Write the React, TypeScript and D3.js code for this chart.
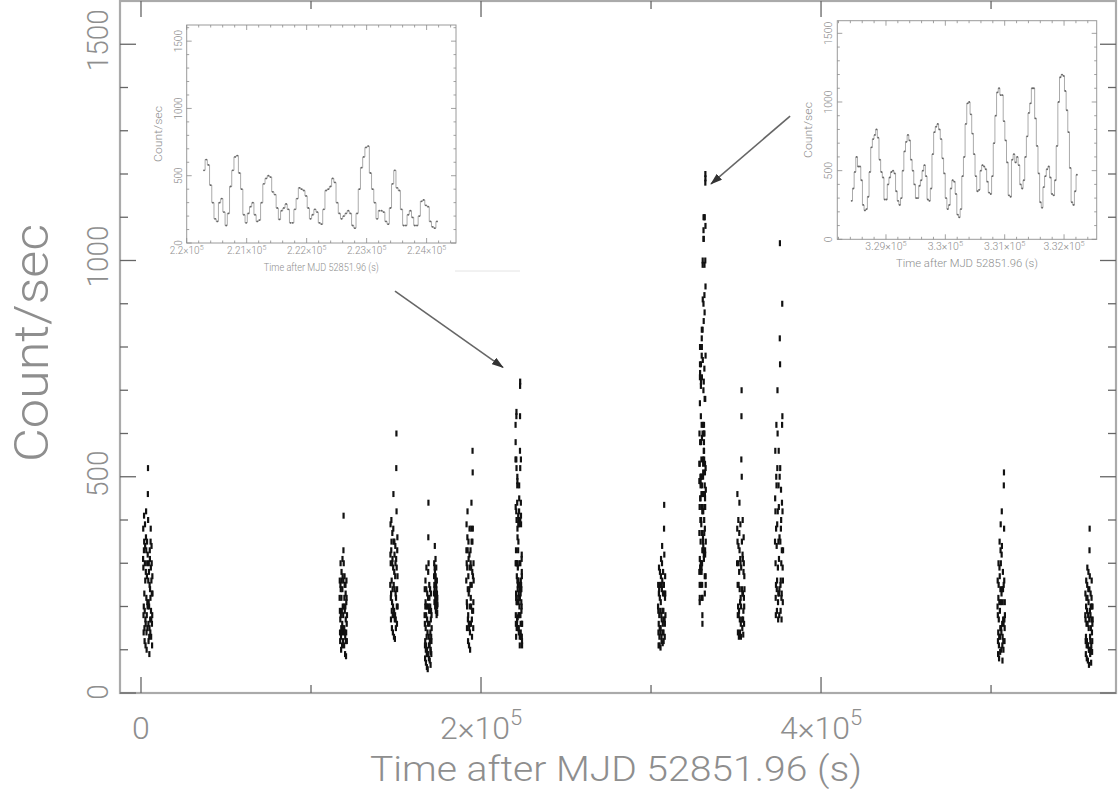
import React from "react";
import * as d3 from "d3";

const W = 1119;
const H = 790;

// ---- main light curve: one array of rates (count/s) per observation segment ----
const seg01 = [310,380,290,180,140,200,330,410,350,230,150,120,190,300,390,340,260,170,110,160,280,360,420,330,220,140,100,180,270,350,300,210,150,200,320,460,520,400,260,160,120,210,300,280,200,130,90,150,250,330,310,240,170,140,220,350,380,290,190,130,170,260,340,300,230,160,110,180,270,230];
const seg02 = [220,260,190,140,120,170,250,300,240,180,130,100,150,220,280,260,190,140,110,160,240,310,270,200,150,120,180,260,330,410,300,200,140,110,150,220,270,250,190,140,90,130,200,250,230,170,120,85,140,210,260,220,160,120,180];
const seg03 = [250,320,390,300,220,170,230,330,400,350,260,190,150,210,300,370,310,240,180,140,200,290,380,460,350,250,180,130,190,280,350,320,240,170,125,180,270,340,300,230,170,150,220,310,520,600,420,290,200,160,240,330,360,270,200];
const seg04 = [180,240,160,110,80,120,200,260,210,150,100,70,110,180,240,290,200,130,90,60,100,170,230,200,140,90,55,90,160,220,280,360,440,300,200,130,80,110,190,250,220,160,110,75,120,190,240,200,140,95,65,100,170,230,190,130,90,120,180,150];
const seg05 = [230,270,300,250,210,240,290,340,280,230,200,220,260,310,270,220,190,210,250,290,240,200,180,215,260,230,200,185,220,205];
const seg06 = [260,330,390,300,210,150,200,290,360,420,330,240,170,120,180,270,350,310,230,160,110,150,240,320,380,290,200,140,100,160,250,330,300,220,160,200,290,380,440,350,250,170,130,190,280,350,560,510,380,270,190,150,210,300,260];
const seg08 = [200,250,190,140,110,160,230,290,240,180,130,110,150,220,280,250,190,140,105,150,210,270,310,250,180,130,120,170,240,300,340,260,190,140,115,160,230,280,250,190,140,120,170,250,380,435,320,230,170,130,160,220,270,230,180];
const seg10 = [300,380,460,350,250,180,140,200,300,400,340,250,180,130,190,280,370,440,330,240,170,140,210,310,390,300,220,160,130,200,290,540,640,700,500,350,240,170,150,230,320,400,310,230,170,135,190,280,360,300,220,160,200,270,240];
const seg11 = [350,450,560,420,300,220,180,250,380,500,620,480,340,240,190,260,390,520,700,600,420,290,210,170,230,350,480,560,430,310,230,180,240,360,500,820,1040,760,520,350,250,190,260,380,470,400,300,220,170,230,330,440,620,900,640,420,290,210,260,330];
const seg12 = [200,260,180,120,90,140,220,300,250,170,110,80,130,210,290,350,270,190,130,95,150,240,330,390,300,210,150,100,140,230,320,420,340,240,160,110,75,130,210,280,240,170,120,100,160,250,480,510,380,260,170,120,150,210,180];
const seg13 = [180,230,170,120,90,130,200,260,220,160,110,80,120,190,250,290,220,160,110,75,110,180,240,280,210,150,100,65,100,170,240,330,380,270,190,130,90,120,180,230,200,150,100,70,110,170,220,260,200,140,95,120,160,200,170];

// zoomed segments (shown in the insets and in the main panel)
const zoomLeftRates = [540,620,580,430,300,180,160,300,330,230,130,220,420,540,640,650,
  520,400,210,150,220,270,300,210,160,
  170,300,440,480,500,490,380,360,260,
  175,240,260,290,250,150,150,250,330,410,
  400,390,350,260,180,210,250,230,150,140,
  250,390,400,420,480,450,300,220,180,200,
  220,240,220,130,110,220,400,560,640,710,
  720,520,400,300,180,240,240,230,160,140,
  260,440,540,410,390,250,130,130,210,240,
  190,130,130,200,310,320,280,270,160,120,
  110,160];
const zoomRightRates = [280,370,490,600,530,530,430,250,210,220,310,490,670,730,760,800,740,580,490,450,
  290,290,400,450,490,500,480,350,280,250,300,500,640,710,760,720,580,500,400,300,
  300,390,430,500,540,460,290,280,370,620,780,820,840,800,730,590,480,300,220,250,
  370,430,420,330,180,160,220,460,600,840,990,1000,910,770,620,460,350,360,500,540,
  530,510,420,340,330,460,700,900,1070,1100,1050,1050,860,720,560,320,310,580,620,560,
  600,540,400,370,430,600,750,920,990,1100,1100,880,680,480,270,230,380,460,510,530,
  450,330,320,430,680,1000,1180,1200,1190,1080,940,780,520,270,250,350,470];

const segments = [
  { t0: 1200, dt: 80, rates: seg01 },
  { t0: 116800, dt: 80, rates: seg02 },
  { t0: 146600, dt: 80, rates: seg03 },
  { t0: 166800, dt: 70, rates: seg04 },
  { t0: 172300, dt: 70, rates: seg05 },
  { t0: 191300, dt: 80, rates: seg06 },
  { t0: 220270, dt: 37, rates: zoomLeftRates },
  { t0: 304100, dt: 80, rates: seg08 },
  { t0: 328408, dt: 27.9, rates: zoomRightRates },
  { t0: 350600, dt: 80, rates: seg10 },
  { t0: 372900, dt: 80, rates: seg11 },
  { t0: 503800, dt: 80, rates: seg12 },
  { t0: 555400, dt: 80, rates: seg13 },
];

// axes
const mainXMajor = [0, 200000, 400000];
const mainXLabels = [["0", ""], ["2×10", "5"], ["4×10", "5"]];
const mainXMinor = [100000, 300000, 500000];
const mainYMajor = [0, 500, 1000, 1500];
const mainYLabels = ["0", "500", "1000", "1500"];

const leftXMajor = [220000, 221000, 222000, 223000, 224000];
const leftXLabels = ["2.2", "2.21", "2.22", "2.23", "2.24"];
const rightXMajor = [329000, 330000, 331000, 332000];
const rightXLabels = ["3.29", "3.3", "3.31", "3.32"];
const insetYMajor = [0, 500, 1000, 1500];

// arrows in main-panel data coordinates
const arrows = [
  { from: [149400, 929], to: [212900, 753] },
  { from: [381800, 1334], to: [335300, 1177] },
];

const GRAY = "#8e8e8e";
const FONT = "Roboto, 'DejaVu Sans', sans-serif";

const mainX = d3.scaleLinear().domain([-12350, 573500]).range([120, 1116]);
const mainY = d3.scaleLinear().domain([0, 1600]).range([693, 1]);

type InsetProps = {
  box: { x0: number; x1: number; y0: number; y1: number };
  xDomain: [number, number];
  yMax: number;
  xMajor: number[];
  xLabels: string[];
  t0: number;
  dt: number;
  rates: number[];
  fs: number;
  titleLen: number;
};

function Inset({ box, xDomain, yMax, xMajor, xLabels, t0, dt, rates, fs, titleLen }: InsetProps) {
  const x = d3.scaleLinear().domain(xDomain).range([box.x0, box.x1]);
  const y = d3.scaleLinear().domain([0, yMax]).range([box.y1, box.y0]);
  const pts: [number, number][] = rates.map((v, i) => [t0 + (i + 0.5) * dt, v]);
  const line = d3
    .line<[number, number]>()
    .x((d) => x(d[0]))
    .y((d) => y(d[1]))
    .curve(d3.curveStep);
  const xMinor = d3.range(Math.ceil(xDomain[0] / 200) * 200, xDomain[1], 200);
  const yMinor = d3.range(0, yMax, 100);
  return (
    <g>
      <rect x={box.x0} y={box.y0} width={box.x1 - box.x0} height={box.y1 - box.y0} fill="none" stroke="#9a9a9a" strokeWidth={1} />
      {xMinor.map((t) => {
        const len = xMajor.includes(t) ? 5 : 2.5;
        return (
          <g key={"xm" + t} stroke="#8a8a8a" strokeWidth={0.8}>
            <line x1={x(t)} x2={x(t)} y1={box.y1} y2={box.y1 - len} />
            <line x1={x(t)} x2={x(t)} y1={box.y0} y2={box.y0 + len} />
          </g>
        );
      })}
      {yMinor.map((v) => {
        const len = v % 500 === 0 ? 5 : 2.5;
        return (
          <g key={"ym" + v} stroke="#8a8a8a" strokeWidth={0.8}>
            <line x1={box.x0} x2={box.x0 + len} y1={y(v)} y2={y(v)} />
            <line x1={box.x1} x2={box.x1 - len} y1={y(v)} y2={y(v)} />
          </g>
        );
      })}
      <path d={line(pts) || ""} fill="none" stroke="#a0a0a0" strokeWidth={0.9} />
      {pts.map((d, i) => (
        <circle key={i} cx={x(d[0])} cy={y(d[1])} r={0.9} fill="#666" />
      ))}
      {insetYMajor.map((v) => (
        <text key={"yl" + v} transform={`translate(${box.x0 - 5},${y(v)}) rotate(-90)`} textAnchor="middle" fontSize={fs} fill={GRAY}>
          {v}
        </text>
      ))}
      {xMajor.map((t, i) => (
        <text key={"xl" + t} x={x(t)} y={box.y1 + 11} textAnchor="middle" fontSize={fs} fill={GRAY}>
          {xLabels[i] + "×10"}
          <tspan dy={-4} fontSize={fs * 0.7}>5</tspan>
        </text>
      ))}
      <text x={(box.x0 + box.x1) / 2} y={box.y1 + 28} textAnchor="middle" fontSize={fs} fill={GRAY} textLength={titleLen} lengthAdjust="spacingAndGlyphs">
        Time after MJD 52851.96 (s)
      </text>
      <text transform={`translate(${box.x0 - 25},${(box.y0 + box.y1) / 2}) rotate(-90)`} textAnchor="middle" fontSize={fs} fill={GRAY} textLength={56} lengthAdjust="spacingAndGlyphs">
        Count/sec
      </text>
    </g>
  );
}

export default function App() {
  const x0 = 120, x1 = 1116, y0 = 1, y1 = 693;
  const yMinor = d3.range(0, 1600, 100);
  return (
    <div style={{ position: "absolute", left: 0, top: 0 }}>
      <svg width={W} height={H} style={{ display: "block", background: "#fff", fontFamily: FONT, fontWeight: 300 }}>
        <defs>
          <marker id="head" viewBox="0 0 12 8" refX={11} refY={4} markerWidth={12} markerHeight={8} markerUnits="userSpaceOnUse" orient="auto">
            <path d="M0,0 L12,4 L0,8 z" fill="#333" />
          </marker>
        </defs>

        {/* frame */}
        <rect x={x0} y={y0} width={x1 - x0} height={y1 - y0} fill="none" stroke="#aaa" strokeWidth={2.2} />
        {mainXMajor.concat(mainXMinor).map((t) => {
          const len = mainXMajor.includes(t) ? 16 : 8;
          return (
            <g key={"x" + t} stroke="#666" strokeWidth={1.3}>
              <line x1={mainX(t)} x2={mainX(t)} y1={y1} y2={y1 - len} />
              <line x1={mainX(t)} x2={mainX(t)} y1={y0} y2={y0 + len} />
            </g>
          );
        })}
        {yMinor.map((v) => {
          const len = v % 500 === 0 ? 16 : 8;
          return (
            <g key={"y" + v} stroke="#666" strokeWidth={1.3}>
              <line x1={x0} x2={x0 + len} y1={mainY(v)} y2={mainY(v)} />
              <line x1={x1} x2={x1 - len} y1={mainY(v)} y2={mainY(v)} />
            </g>
          );
        })}

        {/* tick labels */}
        {mainYMajor.map((v, i) => (
          <text key={"yl" + v} transform={`translate(108,${mainY(v) - mainYLabels[i].length}) rotate(-90)`} textAnchor="middle" fontSize={30} fill={GRAY} textLength={mainYLabels[i].length * 15.5} lengthAdjust="spacingAndGlyphs">
            {mainYLabels[i]}
          </text>
        ))}
        {mainXMajor.map((t, i) => (
          <text key={"xl" + t} x={mainX(t)} y={739} textAnchor="middle" fontSize={32} fill={GRAY}>
            {mainXLabels[i][0]}
            {mainXLabels[i][1] && <tspan dy={-14} fontSize={22}>{mainXLabels[i][1]}</tspan>}
          </text>
        ))}
        <text x={616} y={781} textAnchor="middle" fontSize={35} fill={GRAY} textLength={492} lengthAdjust="spacingAndGlyphs">
          Time after MJD 52851.96 (s)
        </text>
        <text transform="translate(48,343) rotate(-90)" textAnchor="middle" fontSize={48} fill={GRAY} textLength={238} lengthAdjust="spacingAndGlyphs">
          Count/sec
        </text>

        {/* light curve */}
        <g stroke="#111" strokeWidth={2.2}>
          {segments.map((s, si) =>
            s.rates.map((v, i) => {
              const px = mainX(s.t0 + (i + 0.5) * s.dt);
              const py = mainY(v);
              return <line key={si + "-" + i} x1={px} x2={px} y1={py - 3} y2={py + 3} />;
            })
          )}
        </g>

        {/* arrows */}
        {arrows.map((a, i) => (
          <line key={"a" + i} x1={mainX(a.from[0])} y1={mainY(a.from[1])} x2={mainX(a.to[0])} y2={mainY(a.to[1])} stroke="#666" strokeWidth={1.6} markerEnd="url(#head)" />
        ))}

        <line x1={455} x2={520} y1={271} y2={271} stroke="#e4e4e4" strokeWidth={1} />

        <Inset box={{ x0: 186.7, x1: 456, y0: 25, y1: 243 }} xDomain={[220000, 224490]} yMax={1620} xMajor={leftXMajor} xLabels={leftXLabels} t0={220270} dt={37} rates={zoomLeftRates} fs={10} titleLen={115} />
        <Inset box={{ x0: 837.3, x1: 1096.7, y0: 20.7, y1: 239.3 }} xDomain={[328180, 332550]} yMax={1592} xMajor={rightXMajor} xLabels={rightXLabels} t0={328408} dt={27.9} rates={zoomRightRates} fs={10.5} titleLen={142} />
      </svg>
    </div>
  );
}
